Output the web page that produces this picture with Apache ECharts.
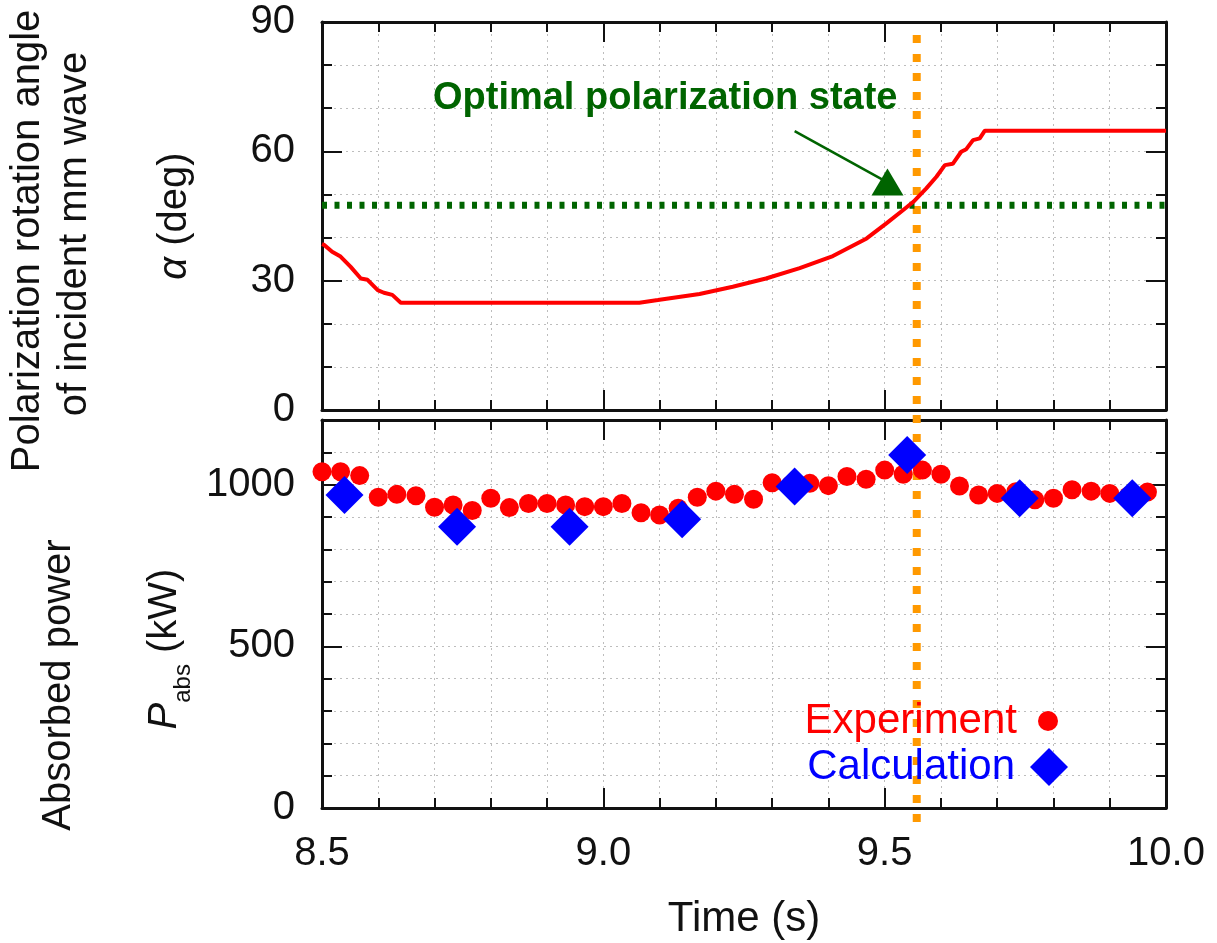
<!DOCTYPE html>
<html><head><meta charset="utf-8">
<script src="https://cdn.jsdelivr.net/npm/echarts@6/dist/echarts.min.js"></script>
<style>html,body{margin:0;padding:0;background:#fff}#c{width:1217px;height:943px}</style>
</head><body><div id="c"></div><script>
// ---- data ----
const alphaTime = [8.500, 8.504, 8.518, 8.533, 8.551, 8.569, 8.581, 8.599, 8.610, 8.625, 8.640, 9.064, 9.097, 9.171, 9.230, 9.289, 9.349, 9.408, 9.468, 9.503, 9.533, 9.551, 9.574, 9.592, 9.607, 9.621, 9.636, 9.645, 9.657, 9.669, 9.678, 10.000];
const alphaDeg  = [38.5, 38.3, 36.7, 35.6, 33.2, 30.5, 30.2, 27.8, 27.2, 26.7, 24.9, 24.9, 25.5, 26.9, 28.6, 30.5, 32.9, 35.7, 39.8, 43.3, 46.4, 48.3, 51.4, 54.1, 56.8, 57.1, 59.9, 60.5, 62.6, 63.0, 64.8, 64.8];

const expTime  = [8.500, 8.533, 8.567, 8.600, 8.633, 8.667, 8.700, 8.733, 8.767, 8.800, 8.833, 8.867, 8.900, 8.933, 8.967, 9.000, 9.033, 9.067, 9.100, 9.133, 9.167, 9.200, 9.233, 9.267, 9.300, 9.333, 9.367, 9.400, 9.433, 9.467, 9.500, 9.533, 9.567, 9.600, 9.633, 9.667, 9.700, 9.733, 9.767, 9.800, 9.833, 9.867, 9.900, 9.933, 9.967];
const expPower = [1040, 1040, 1028, 961, 970, 966, 930, 937, 920, 958, 929, 942, 942, 937, 932, 932, 942, 913, 906, 927, 961, 980, 970, 955, 1006, 1000, 1004, 997, 1025, 1017, 1045, 1032, 1045, 1032, 996, 968, 973, 978, 953, 958, 984, 980, 973, 965, 977];

const calcTime  = [8.54, 8.74, 8.94, 9.14, 9.34, 9.54, 9.74, 9.94];
const calcPower = [968, 870, 870, 893, 994, 1092, 958, 958];

const optimalAlpha = 47.5;
const markerTime = 9.557;
const arrowLine = [[9.340, 64.7], [9.497, 53.4]];
const arrowHead = [9.505, 52.9];
const annotation = [9.110, 72.3];
const annotationText = 'Optimal polarization state';

const timeRange = [8.5, 10.0], timeStep = 0.5;
const alphaRange = [0, 90], alphaStep = 30;
const powerRange = [0, 1200], powerStep = 500, powerMinorStep = 100;
const seriesNames = ['Experiment', 'Calculation'];

// ---- chart ----
const FONT = 'Liberation Sans, Arial, Helvetica, sans-serif';
const INK = '#111111';
const tickLine = {color: INK, width: 2, opacity: 1};
const frameLine = {show: true, onZero: false, lineStyle: {color: INK, width: 3, opacity: 1}};
const gridDot = {color: '#bdbdbd', width: 1, type: [2, 4]};

function xAxisDef(gridIndex, position, showLabels, showGrid) {
  return {
    type: 'value', gridIndex, position, min: timeRange[0], max: timeRange[1], interval: timeStep,
    axisLine: frameLine,
    axisTick: {show: true, inside: true, length: 20, lineStyle: tickLine},
    minorTick: {show: true, splitNumber: 5, length: 10, lineStyle: tickLine},
    axisLabel: showLabels ? {show: true, margin: 26, fontSize: 40, fontFamily: FONT, color: '#111',
      formatter: v => v.toFixed(1)} : {show: false},
    splitLine: {show: showGrid, lineStyle: gridDot},
    minorSplitLine: {show: showGrid, lineStyle: gridDot}
  };
}
function powerAxis(position, step, tickLen, showLabels, showGrid, showLine) {
  return {
    type: 'value', gridIndex: 1, position, min: powerRange[0], max: powerRange[1], interval: step,
    axisLine: showLine ? frameLine : {show: false},
    axisTick: {show: true, inside: true, length: tickLen, lineStyle: tickLine},
    axisLabel: showLabels ? {show: true, margin: 27, fontSize: 40, fontFamily: FONT, color: '#111',
      formatter: v => (v % powerStep === 0 ? String(v) : '')} : {show: false},
    splitLine: {show: showGrid, lineStyle: gridDot}
  };
}

const gridBase = {left: 322, right: 51, show: false, containLabel: false, outerBoundsMode: 'none'};

const option = {
  animation: false,
  backgroundColor: '#fff',
  textStyle: {fontFamily: FONT},
  grid: [
    Object.assign({}, gridBase, {top: 22, height: 388}),
    Object.assign({}, gridBase, {top: 420, height: 388}),
    Object.assign({}, gridBase, {top: 35, height: 798})
  ],
  xAxis: [
    xAxisDef(0, 'bottom', false, true),
    xAxisDef(0, 'top', false, false),
    Object.assign(xAxisDef(1, 'bottom', true, true), {
      name: 'Time (s)', nameLocation: 'middle', nameGap: 90,
      nameTextStyle: {fontSize: 42, fontFamily: FONT, color: '#111'}
    }),
    xAxisDef(1, 'top', false, false),
    {type: 'value', gridIndex: 2, min: timeRange[0], max: timeRange[1], show: false}
  ],
  yAxis: [
    {
      type: 'value', gridIndex: 0, position: 'left', min: alphaRange[0], max: alphaRange[1], interval: alphaStep,
      axisLine: frameLine,
      axisTick: {show: true, inside: true, length: 20, lineStyle: tickLine},
      minorTick: {show: true, splitNumber: 3, length: 10, lineStyle: tickLine},
      axisLabel: {show: true, margin: 27, fontSize: 40, fontFamily: FONT, color: '#111'},
      splitLine: {show: true, lineStyle: gridDot},
      minorSplitLine: {show: true, lineStyle: gridDot},
      name: '{i|α} (deg)', nameLocation: 'middle', nameGap: 127,
      nameTextStyle: {fontSize: 40, fontFamily: FONT, color: '#111',
        rich: {i: {fontStyle: 'italic', fontSize: 40, fontFamily: FONT, color: '#111'}}}
    },
    {
      type: 'value', gridIndex: 0, position: 'right', min: alphaRange[0], max: alphaRange[1], interval: alphaStep,
      axisLine: frameLine,
      axisTick: {show: true, inside: true, length: 20, lineStyle: tickLine},
      minorTick: {show: true, splitNumber: 3, length: 10, lineStyle: tickLine},
      axisLabel: {show: false}, splitLine: {show: false}
    },
    powerAxis('left', powerMinorStep, 10, false, true, true),
    Object.assign(powerAxis('left', powerStep, 20, true, false, false), {
      name: '{p|P}{s|abs}{n| (kW)}', nameLocation: 'middle', nameGap: 118,
      nameTextStyle: {fontSize: 40, fontFamily: FONT, color: '#111', padding: [0, 70, 0, 0],
        rich: {
          p: {fontStyle: 'italic', fontSize: 40, lineHeight: 60, fontFamily: FONT, color: '#111'},
          s: {fontSize: 24, lineHeight: 24, verticalAlign: 'bottom', fontFamily: FONT, color: '#111'},
          n: {fontSize: 40, lineHeight: 60, fontFamily: FONT, color: '#111'}
        }}
    }),
    powerAxis('right', powerMinorStep, 10, false, false, true),
    powerAxis('right', powerStep, 20, false, false, false),
    {type: 'value', gridIndex: 2, min: 0, max: 1, show: false}
  ],
  legend: [
    {
      data: [{name: seriesNames[0], textStyle: {color: '#ff0000'}}],
      right: 159, top: 700, padding: 0, align: 'right', selectedMode: false,
      itemWidth: 20, itemHeight: 20,
      textStyle: {fontSize: 42, fontFamily: FONT, color: '#ff0000', padding: [0, 16, 0, 0]}
    },
    {
      data: [{name: seriesNames[1], textStyle: {color: '#0000ff'}}],
      right: 149, top: 746, padding: 0, align: 'right', selectedMode: false,
      itemWidth: 38, itemHeight: 38,
      textStyle: {fontSize: 42, fontFamily: FONT, color: '#0000ff', padding: [0, 10, 0, 0]}
    }
  ],
  graphic: [
    {type: 'text', x: 28, y: 241, rotation: Math.PI / 2, silent: true,
      style: {text: 'Polarization rotation angle', fontSize: 40, fontFamily: FONT, fill: '#111',
        textAlign: 'center', textVerticalAlign: 'middle', align: 'center', verticalAlign: 'middle'}},
    {type: 'text', x: 75, y: 234, rotation: Math.PI / 2, silent: true,
      style: {text: 'of incident mm wave', fontSize: 40, fontFamily: FONT, fill: '#111',
        textAlign: 'center', textVerticalAlign: 'middle', align: 'center', verticalAlign: 'middle'}},
    {type: 'text', x: 59, y: 685, rotation: Math.PI / 2, silent: true,
      style: {text: 'Absorbed power', fontSize: 40, fontFamily: FONT, fill: '#111',
        textAlign: 'center', textVerticalAlign: 'middle', align: 'center', verticalAlign: 'middle'}}
  ],
  series: [
    {
      name: 'marker', type: 'line', xAxisIndex: 4, yAxisIndex: 6, z: 2, silent: true,
      data: [[markerTime, 1], [markerTime, 0]], symbol: 'none',
      lineStyle: {color: '#ff9900', width: 8, type: [8, 11], cap: 'butt', opacity: 1}
    },
    {
      name: 'optimal', type: 'line', xAxisIndex: 0, yAxisIndex: 0, z: 3, silent: true,
      data: [[timeRange[0], optimalAlpha], [timeRange[1], optimalAlpha]], symbol: 'none',
      lineStyle: {color: '#006400', width: 7, type: [5, 7.5], cap: 'butt', opacity: 1}
    },
    {
      name: 'alpha', type: 'line', xAxisIndex: 0, yAxisIndex: 0, z: 4, silent: true,
      data: alphaTime.map((t, i) => [t, alphaDeg[i]]), symbol: 'none',
      lineStyle: {color: '#ff0000', width: 4, opacity: 1}
    },
    {
      name: 'arrow', type: 'line', xAxisIndex: 0, yAxisIndex: 0, z: 4, silent: true,
      data: arrowLine, symbol: 'none', lineStyle: {color: '#006400', width: 2.5, opacity: 1}
    },
    {
      name: 'arrowHead', type: 'scatter', xAxisIndex: 0, yAxisIndex: 0, z: 4, silent: true,
      data: [arrowHead], symbol: 'triangle', symbolSize: [32, 27], itemStyle: {color: '#006400', opacity: 1}
    },
    {
      name: 'annotation', type: 'scatter', xAxisIndex: 0, yAxisIndex: 0, z: 5, silent: true,
      data: [annotation], symbolSize: 1, itemStyle: {color: 'rgba(0,0,0,0)'},
      label: {show: true, position: 'inside', formatter: annotationText, fontSize: 38, fontWeight: 'bold',
        fontFamily: FONT, color: '#006400', opacity: 1}
    },
    {
      name: seriesNames[0], type: 'scatter', xAxisIndex: 2, yAxisIndex: 2, z: 4, clip: false,
      data: expTime.map((t, i) => [t, expPower[i]]), symbol: 'circle', symbolSize: 19,
      itemStyle: {color: '#ff0000', opacity: 1}
    },
    {
      name: seriesNames[1], type: 'scatter', xAxisIndex: 2, yAxisIndex: 2, z: 5, clip: false,
      data: calcTime.map((t, i) => [t, calcPower[i]]), symbol: 'diamond', symbolSize: 38,
      itemStyle: {color: '#0000ff', opacity: 1}
    }
  ]
};
const chart = echarts.init(document.getElementById('c'), null, {renderer: 'canvas'});
chart.setOption(option);
</script></body></html>
